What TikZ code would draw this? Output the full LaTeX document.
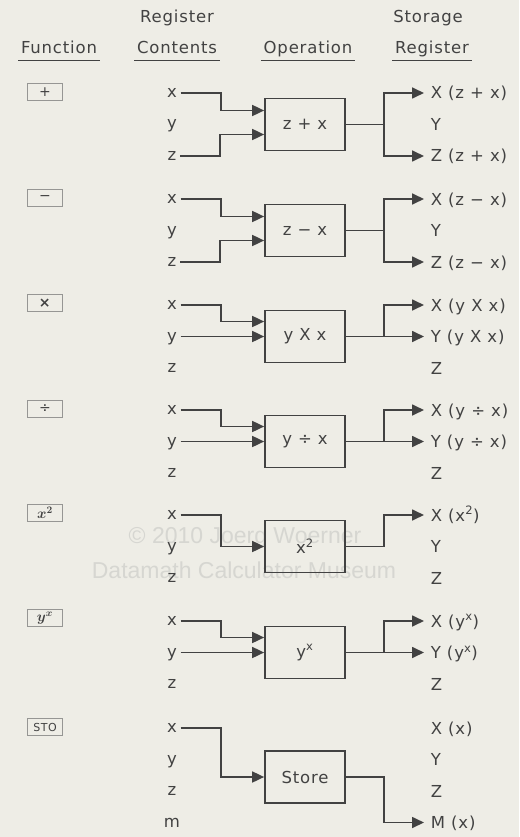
\documentclass[tikz,border=0pt]{standalone}
\usepackage{bm}
\usepackage{fontspec}
\setmainfont[LetterSpace=5]{DejaVu Sans}
\newfontfamily\markfont{Liberation Sans}
\usepackage{tikz}
\usetikzlibrary{positioning,calc,arrows.meta}
\definecolor{myink}{RGB}{66,66,66}
\definecolor{mypaper}{RGB}{238,237,230}
\definecolor{mykey}{RGB}{150,150,148}
\definecolor{mymark}{RGB}{214,214,209}
\tikzstyle{head}=[font=\fontsize{16.5}{16}\selectfont,text depth=4pt,inner sep=2pt,anchor=base]
\tikzstyle{fkey}=[draw=mykey,thin,minimum width=35pt,minimum height=17pt,inner sep=0pt,font=\fontsize{14}{14}\selectfont]
\tikzstyle{oper}=[draw,minimum width=80pt,minimum height=52pt,font=\fontsize{16.5}{16}\selectfont]
\tikzstyle{reg}=[font=\fontsize{16.5}{16}\selectfont,text height=9pt,text depth=0pt,inner sep=3pt]
\tikzstyle{dest}=[anchor=west,font=\fontsize{16.5}{16}\selectfont,text height=12pt,text depth=0pt,inner sep=0pt]

\begin{document}
\begin{tikzpicture}[x=1pt,y=-1pt,color=myink,line width=1.7pt]
\tikzstyle{link}=[-{Triangle[length=12pt,width=11pt]}]
\fill[mypaper] (0,0) rectangle (519,837);
\useasboundingbox (0,0) rectangle (519,837);
\node[text=mymark,font=\markfont\fontsize{23}{23}\selectfont] (W1) at (245,538) {© 2010 Joerg Woerner};
\node[text=mymark,font=\markfont\fontsize{23}{23}\selectfont] (W2) at (244,570) {Datamath Calculator Museum};

\node[head] (RC) at (177,23) {Register};
\node[head] (RS) at (428,23) {Storage};
\node[head] (F) at (59,54) {Function};
\node[head] (C) at (177,54) {Contents};
\node[head] (P) at (308,54) {Operation};
\node[head] (S) at (432,54) {Register};
\foreach \n in {F,C,P,S} \draw[line width=1.3pt] (\n.south west) -- (\n.south east);

\foreach \n/\t in {1/93,2/199,3/305,4/410,5/515,6/621,7/728}{
 \node[reg] (x\n) at (172,\t) {x};
 \node[reg] (y\n) at (172,\t+31.5) {y};
 \node[reg] (z\n) at (172,\t+63) {z};
}
\node[reg] (m7) at (172,822.5) {m};

\node[fkey] (K1) at (45,92) {+};
\node[fkey] (K2) at (45,198) {−};
\node[fkey] (K3) at (45,303) {\textbf{×}};
\node[fkey] (K4) at (45,409) {÷};
\node[fkey] (K5) at (45,513) {$\bm{x}^{\bm{2}}$};
\node[fkey] (K6) at (45,618) {$\bm{y}^{\bm{x}}$};
\node[fkey,font=\fontsize{11}{11}\selectfont] (K7) at (45,727) {STO};

\node[oper] (O1) at (305,124.5) {z + x};
\node[oper] (O2) at (305,230.5) {z − x};
\node[oper] (O3) at (305,336.5) {y X x};
\node[oper] (O4) at (305,441.5) {y ÷ x};
\node[oper] (O5) at (305,546.5) {x\textsuperscript{2}};
\node[oper] (O6) at (305,652.5) {y\textsuperscript{x}};
\node[oper] (O7) at (305,777) {Store};

\node[dest] (X1) at (430,93) {X (z + x)};
\node[dest] (Y1) at (430,124.5) {Y};
\node[dest] (Z1) at (430,156) {Z (z + x)};
\node[dest] (X2) at (430,199) {X (z − x)};
\node[dest] (Y2) at (430,230.5) {Y};
\node[dest] (Z2) at (430,262) {Z (z − x)};
\node[dest] (X3) at (430,305) {X (y X x)};
\node[dest] (Y3) at (430,336.5) {Y (y X x)};
\node[dest] (Z3) at (430,368) {Z};
\node[dest] (X4) at (430,410) {X (y ÷ x)};
\node[dest] (Y4) at (430,441.5) {Y (y ÷ x)};
\node[dest] (Z4) at (430,473) {Z};
\node[dest] (X5) at (430,515) {X (x\textsuperscript{2})};
\node[dest] (Y5) at (430,546.5) {Y};
\node[dest] (Z5) at (430,578) {Z};
\node[dest] (X6) at (430,621) {X (y\textsuperscript{x})};
\node[dest] (Y6) at (430,652.5) {Y (y\textsuperscript{x})};
\node[dest] (Z6) at (430,684) {Z};
\node[dest] (X7) at (430,728) {X (x)};
\node[dest] (Y7) at (430,759.5) {Y};
\node[dest] (Z7) at (430,791) {Z};
\node[dest] (M7) at (430,822.5) {M (x)};

\draw[link] (x1.east) -- ++(40,0) |- ([yshift=14pt]O1.west);
\draw[link] (z1.east) -- ++(40,0) |- ([yshift=-10pt]O1.west);
\draw[link] (O1.east) -- ++(38,0) |- ([xshift=-6pt]X1.west);
\draw[link] (O1.east) -- ++(38,0) |- ([xshift=-6pt]Z1.west);

\draw[link] (x2.east) -- ++(40,0) |- ([yshift=14pt]O2.west);
\draw[link] (z2.east) -- ++(40,0) |- ([yshift=-10pt]O2.west);
\draw[link] (O2.east) -- ++(38,0) |- ([xshift=-6pt]X2.west);
\draw[link] (O2.east) -- ++(38,0) |- ([xshift=-6pt]Z2.west);

\draw[link] (x3.east) -- ++(40,0) |- ([yshift=15pt]O3.west);
\draw[link] (y3.east) -- (O3.west);
\draw[link] (O3.east) -- ++(38,0) |- ([xshift=-6pt]X3.west);
\draw[link] (O3.east) -- ([xshift=-6pt]Y3.west);

\draw[link] (x4.east) -- ++(40,0) |- ([yshift=15pt]O4.west);
\draw[link] (y4.east) -- (O4.west);
\draw[link] (O4.east) -- ++(38,0) |- ([xshift=-6pt]X4.west);
\draw[link] (O4.east) -- ([xshift=-6pt]Y4.west);

\draw[link] (x5.east) -- ++(40,0) |- (O5.west);
\draw[link] (O5.east) -- ++(38,0) |- ([xshift=-6pt]X5.west);

\draw[link] (x6.east) -- ++(40,0) |- ([yshift=15pt]O6.west);
\draw[link] (y6.east) -- (O6.west);
\draw[link] (O6.east) -- ++(38,0) |- ([xshift=-6pt]X6.west);
\draw[link] (O6.east) -- ([xshift=-6pt]Y6.west);

\draw[link] (x7.east) -- ++(40,0) |- (O7.west);
\draw[link] (O7.east) -- ++(38,0) |- ([xshift=-6pt]M7.west);
\end{tikzpicture}
\end{document}
